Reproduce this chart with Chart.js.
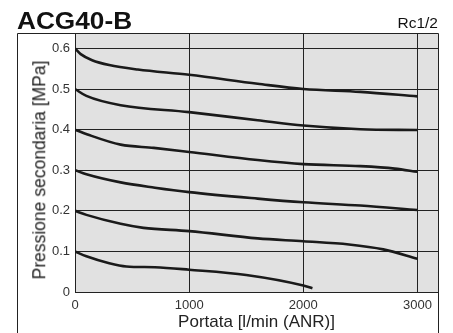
<!DOCTYPE html>
<html>
<head>
<meta charset="utf-8">
<script src="https://cdn.jsdelivr.net/npm/chart.js@4"></script>
<style>
  html, body { margin: 0; padding: 0; background: #fff; }
  #wrap { position: relative; width: 453px; height: 333px; font-family: "Liberation Sans", Arial, sans-serif; }
  #titolo { position: absolute; left: 17px; top: 8px; font-size: 23px; font-weight: bold; color: #111;
            transform: scaleX(1.14); transform-origin: left top; }
  #attacco { position: absolute; right: 15px; top: 14px; font-size: 15.5px; color: #111; }
  #titoloY { position: absolute; left: 40px; top: 170px; font-size: 17.5px; color: #222; white-space: nowrap;
             line-height: 1; transform: translate(-50%, -50%) rotate(-90deg); }
  canvas { position: absolute; left: 0; top: 0; }
</style>
</head>
<body>
<div id="wrap">
  <canvas id="grafico" width="453" height="333"></canvas>
  <div id="titolo">ACG40-B</div>
  <div id="attacco">Rc1/2</div>
  <div id="titoloY">Pressione secondaria [MPa]</div>
</div>
<script>
// portata [l/min] e pressione secondaria [MPa] per ogni curva
const portata06 = [0, 50, 150, 300, 550, 1000, 1600, 2000, 2500, 3000];
const press06 = [0.6, 0.586, 0.571, 0.559, 0.548, 0.535, 0.513, 0.5, 0.493, 0.482];

const portata05 = [0, 100, 400, 1000, 1600, 2000, 2500, 3000];
const press05 = [0.5, 0.483, 0.46, 0.443, 0.423, 0.41, 0.401, 0.399];

const portata04 = [0, 110, 400, 690, 1000, 1600, 2000, 2500, 2800, 3000];
const press04 = [0.4, 0.388, 0.363, 0.355, 0.345, 0.325, 0.315, 0.31, 0.304, 0.296];

const portata03 = [0, 100, 400, 700, 1000, 1600, 2000, 2500, 3000];
const press03 = [0.3, 0.29, 0.27, 0.257, 0.246, 0.23, 0.221, 0.213, 0.202];

const portata02 = [0, 100, 400, 600, 1000, 1600, 2000, 2400, 2700, 3000];
const press02 = [0.2, 0.19, 0.168, 0.158, 0.15, 0.132, 0.125, 0.117, 0.105, 0.082];

const portata01 = [0, 100, 300, 450, 700, 1000, 1500, 2000, 2080];
const press01 = [0.1, 0.088, 0.071, 0.063, 0.061, 0.055, 0.042, 0.016, 0.009];

const curve = [
  [portata06, press06],
  [portata05, press05],
  [portata04, press04],
  [portata03, press03],
  [portata02, press02],
  [portata01, press01]
];

const tickX = [0, 1000, 2000, 3000];
const tickY = [0, 0.1, 0.2, 0.3, 0.4, 0.5, 0.6];

const datasets = curve.map(function (c) {
  return {
    data: c[0].map((x, i) => ({ x: x, y: c[1][i] })),
    borderColor: '#1a1a1a',
    borderWidth: 2.6,
    pointRadius: 0,
    fill: false,
    cubicInterpolationMode: 'monotone'
  };
});

// sfondo grigio dell'area del grafico e cornice esterna
const cornice = {
  id: 'cornice',
  beforeDraw(chart) {
    const ctx = chart.ctx;
    const a = chart.chartArea;
    ctx.save();
    ctx.fillStyle = '#e1e1e1';
    ctx.fillRect(a.left, a.top, a.right - a.left, a.bottom - a.top);
    ctx.restore();
  },
  afterDraw(chart) {
    const ctx = chart.ctx;
    const a = chart.chartArea;
    ctx.save();
    ctx.strokeStyle = '#222';
    ctx.lineWidth = 1;
    ctx.beginPath();
    ctx.moveTo(17.5, 340);
    ctx.lineTo(17.5, a.top + 0.5);
    ctx.lineTo(a.right + 0.5, a.top + 0.5);
    ctx.lineTo(a.right + 0.5, 340);
    ctx.stroke();
    ctx.restore();
  }
};

new Chart(document.getElementById('grafico'), {
  type: 'line',
  data: { datasets: datasets },
  plugins: [cornice],
  options: {
    responsive: false,
    animation: false,
    layout: { padding: { left: 17, right: 15, top: 33, bottom: 0 } },
    plugins: {
      legend: { display: false },
      tooltip: { enabled: false }
    },
    scales: {
      x: {
        type: 'linear',
        min: 0,
        max: 3180,
        afterFit(scale) { scale.height = 41; },
        afterBuildTicks(scale) { scale.ticks = tickX.map(v => ({ value: v })); },
        border: { display: true, color: '#222', width: 1 },
        grid: { color: '#222', lineWidth: 1, drawTicks: false },
        ticks: {
          includeBounds: false,
          padding: 6,
          color: '#333',
          font: { family: 'Liberation Sans', size: 13 },
          maxRotation: 0,
          callback: v => String(v)
        },
        title: {
          display: true,
          text: 'Portata [l/min (ANR)]',
          color: '#222',
          padding: { top: 0, bottom: 0 },
          font: { family: 'Liberation Sans', size: 17 }
        }
      },
      y: {
        min: 0,
        max: 0.638,
        afterFit(scale) { scale.width = 58; },
        afterBuildTicks(scale) { scale.ticks = tickY.map(v => ({ value: v })); },
        border: { display: true, color: '#222', width: 1 },
        grid: { color: '#222', lineWidth: 1, drawTicks: false },
        ticks: {
          includeBounds: false,
          padding: 5,
          color: '#333',
          font: { family: 'Liberation Sans', size: 13 },
          callback: v => (v === 0 ? '0' : v.toFixed(1))
        }
      }
    }
  }
});
</script>
</body>
</html>
